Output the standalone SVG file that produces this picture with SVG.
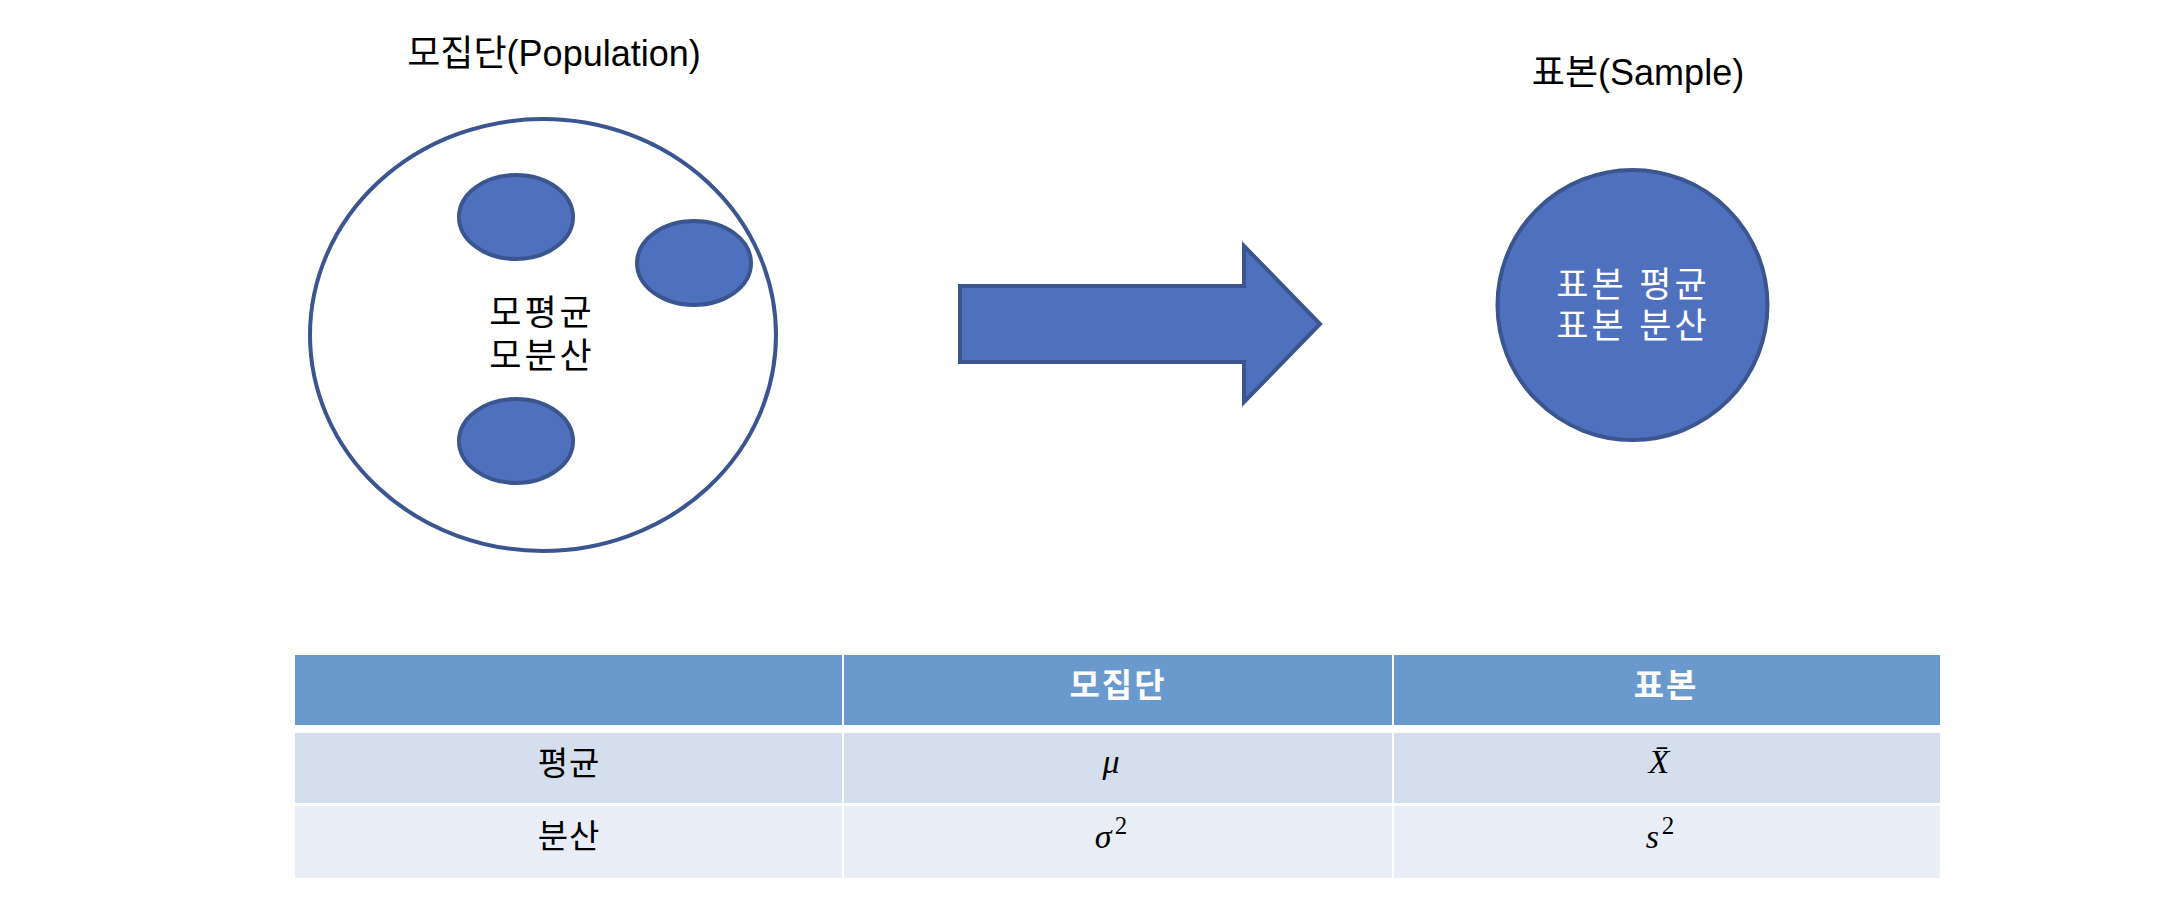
<svg xmlns="http://www.w3.org/2000/svg" width="2158" height="916" viewBox="0 0 2158 916">
<style>
.ko{font-family:"Liberation Sans","Noto Sans CJK KR",sans-serif;}
.shape{fill:#4F71BD;stroke:#3A5590;stroke-width:4;}
.math{font-family:"Liberation Serif","DejaVu Serif",serif;font-style:italic;fill:#000;}
.sup{font-size:25px;font-style:normal;}
.hdr{fill:#6A99CE;}
.r1{fill:#D4DEEC;}
.r2{fill:#E9EEF6;}
</style>
<rect width="2158" height="916" fill="#FFFFFF"/>
<g id="population">
<text class="ko" x="554" y="66" font-size="36" text-anchor="middle" fill="#000">모집단(Population)</text>
<ellipse cx="543" cy="335" rx="233" ry="216" fill="#FFFFFF" stroke="#3A5590" stroke-width="4"/>
<ellipse class="shape" cx="516" cy="217" rx="57" ry="42"/>
<ellipse class="shape" cx="694" cy="263" rx="57" ry="42"/>
<ellipse class="shape" cx="516" cy="441" rx="57" ry="42"/>
<text class="ko" x="542" y="325" font-size="35" letter-spacing="3" text-anchor="middle" fill="#000">모평균</text>
<text class="ko" x="542" y="368" font-size="35" letter-spacing="3" text-anchor="middle" fill="#000">모분산</text>
</g>
<g id="connectors">
<path class="shape" d="M960,286 L1244,286 L1244,246 L1320,324 L1244,402 L1244,362 L960,362 Z"/>
</g>
<g id="sample">
<text class="ko" x="1638" y="85" font-size="36" text-anchor="middle" fill="#000">표본(Sample)</text>
<circle class="shape" cx="1632.5" cy="305" r="135"/>
<text class="ko" x="1633" y="297" font-size="35" letter-spacing="3" text-anchor="middle" fill="#FFFFFF">표본 평균</text>
<text class="ko" x="1633" y="338" font-size="35" letter-spacing="3" text-anchor="middle" fill="#FFFFFF">표본 분산</text>
</g>
<g id="table">
<rect class="hdr" x="295" y="655" width="547" height="70"/>
<rect class="hdr" x="844" y="655" width="548" height="70"/>
<rect class="hdr" x="1394" y="655" width="546" height="70"/>
<rect class="r1" x="295" y="733" width="547" height="70"/>
<rect class="r1" x="844" y="733" width="548" height="70"/>
<rect class="r1" x="1394" y="733" width="546" height="70"/>
<rect class="r2" x="295" y="806" width="547" height="72"/>
<rect class="r2" x="844" y="806" width="548" height="72"/>
<rect class="r2" x="1394" y="806" width="546" height="72"/>
<text class="ko" x="1118" y="697" font-size="33" font-weight="bold" letter-spacing="2" text-anchor="middle" fill="#FFFFFF">모집단</text>
<text class="ko" x="1666" y="697" font-size="33" font-weight="bold" letter-spacing="2" text-anchor="middle" fill="#FFFFFF">표본</text>
<text class="ko" x="569" y="775" font-size="33" letter-spacing="1" text-anchor="middle" fill="#000">평균</text>
<text class="ko" x="569" y="848" font-size="33" letter-spacing="1" text-anchor="middle" fill="#000">분산</text>
<text class="math" x="1111" y="773" font-size="34" text-anchor="middle">μ</text>
<text class="math" x="1659" y="773" font-size="34" text-anchor="middle">X̄</text>
<text class="math" x="1111" y="848" font-size="34" text-anchor="middle">σ<tspan class="sup" dx="3" dy="-14">2</tspan></text>
<text class="math" x="1660" y="848" font-size="34" text-anchor="middle">s<tspan class="sup" dx="3" dy="-14">2</tspan></text>
</g>
</svg>
